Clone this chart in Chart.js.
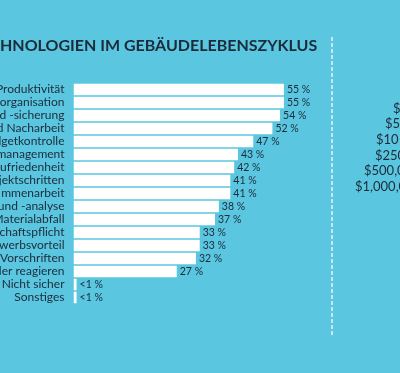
<!DOCTYPE html>
<html>
<head>
<meta charset="utf-8">
<script src="https://cdn.jsdelivr.net/npm/chart.js@4"></script>
<style>
  html, body { margin: 0; padding: 0; background: #5ac6df; }
  #wrap { width: 400px; height: 373px; }
</style>
</head>
<body>
<div id="wrap"><canvas id="benefitsChart"></canvas></div>
<script>
// categories as visible in the (cropped) reference
const categories = [
  'Produktivität', '-organisation', 'd -sicherung', 'd Nacharbeit', 'lgetkontrolle',
  'management', 'ufriedenheit', 'jektschritten', 'mmenarbeit', 'und -analyse',
  'Materialabfall', 'chaftspflicht', 'werbsvorteil', 'Vorschriften', 'ler reagieren',
  'Nicht sicher', 'Sonstiges'
];
const percentValues = [55, 55, 54, 52, 47, 43, 42, 41, 41, 38, 37, 33, 33, 32, 27, 0.8, 0.8];
const valueLabels = ['55 %', '55 %', '54 %', '52 %', '47 %', '43 %', '42 %', '41 %', '41 %',
  '38 %', '37 %', '33 %', '33 %', '32 %', '27 %', '<1 %', '<1 %'];
const titleText = 'HNOLOGIEN IM GEBÄUDELEBENSZYKLUS';
const budgetLabels = ['$', '$5', '$10', '$250', '$500,0', '$1,000,0'];

const textColor = '#1c2b3a';
const bgColor = '#5ac6df';

// title, divider and the cut-off budget texts on the right
const decorPlugin = {
  id: 'decor',
  beforeDraw(chart) {
    const ctx = chart.ctx;
    ctx.save();
    ctx.fillStyle = bgColor;
    ctx.fillRect(0, 0, chart.width, chart.height);
    ctx.restore();
  },
  afterDraw(chart) {
    const ctx = chart.ctx;
    ctx.save();
    ctx.fillStyle = textColor;
    ctx.font = 'bold 16px Lato';
    ctx.textBaseline = 'middle';
    ctx.textAlign = 'left';
    ctx.fillText(titleText, 0, 46);

    // dashed divider
    ctx.strokeStyle = 'rgba(255,255,255,0.85)';
    ctx.lineWidth = 1.5;
    ctx.setLineDash([4, 2]);
    ctx.beginPath();
    ctx.moveTo(332, 37);
    ctx.lineTo(332, 336);
    ctx.stroke();
    ctx.setLineDash([]);

    ctx.font = '13px Lato';
    const starts = [393, 385, 376, 375, 364, 355];
    budgetLabels.forEach((t, i) => {
      ctx.fillText(t, starts[i], 108.5 + i * 15.7);
    });
    ctx.restore();
  },
  afterDatasetsDraw(chart) {
    const ctx = chart.ctx;
    const meta = chart.getDatasetMeta(0);
    ctx.save();
    ctx.fillStyle = textColor;
    ctx.font = '10.5px Lato';
    ctx.textBaseline = 'middle';
    ctx.textAlign = 'left';
    meta.data.forEach((bar, i) => {
      ctx.fillText(valueLabels[i], bar.x + 3, bar.y);
    });
    ctx.restore();
  }
};

const ctx = document.getElementById('benefitsChart');
new Chart(ctx, {
  type: 'bar',
  data: {
    labels: categories,
    datasets: [{
      data: percentValues,
      backgroundColor: '#ffffff',
      borderWidth: 0,
      barPercentage: 0.88,
      categoryPercentage: 1.0
    }]
  },
  options: {
    indexAxis: 'y',
    responsive: true,
    maintainAspectRatio: false,
    animation: false,
    layout: { padding: { top: 83, bottom: 69, left: 0, right: 97 } },
    plugins: {
      legend: { display: false },
      tooltip: { enabled: false }
    },
    scales: {
      x: { display: false, min: 0, max: 60 },
      y: {
        grid: { display: false, drawTicks: false },
        border: { display: false },
        ticks: {
          color: textColor,
          font: { family: 'Lato', size: 12 },
          padding: 9,
          autoSkip: false
        },
        afterFit(scale) { scale.width = 73.5; }
      }
    }
  },
  plugins: [decorPlugin]
});
</script>
</body>
</html>
